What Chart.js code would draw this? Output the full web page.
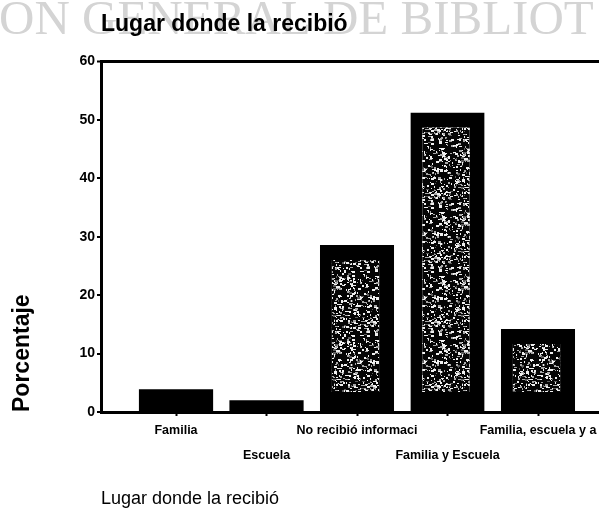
<!DOCTYPE html>
<html>
<head>
<meta charset="utf-8">
<script src="https://cdn.jsdelivr.net/npm/chart.js@4/dist/chart.umd.min.js"></script>
<style>
  html, body { margin: 0; background: #fff; }
  #wrap { width: 599px; height: 508px; }
</style>
</head>
<body>
<div id="wrap"><canvas id="chart" width="599" height="508"></canvas></div>
<script>
// datos: porcentaje por lugar donde recibió la información
const categories = ['Familia', 'Escuela', 'No recibió informaci', 'Familia y Escuela', 'Familia, escuela y a'];
const porcentajes = [3.9, 2.0, 28.6, 51.3, 14.2];
const yTicks = [0, 10, 20, 30, 40, 50, 60];
const posiciones = [1, 2, 3, 4, 5];

const FONT = '"Liberation Sans", Arial, sans-serif';

// relleno moteado (negro con manchas claras) para las barras grandes
function makeSpeckle() {
  const size = 64;
  const c = document.createElement('canvas');
  c.width = size; c.height = size;
  const g = c.getContext('2d');
  g.fillStyle = '#050505';
  g.fillRect(0, 0, size, size);
  let seed = 12345;
  const next = () => {
    seed = (Math.imul(seed, 1664525) + 1013904223) >>> 0;
    return seed / 4294967296;
  };
  for (let i = 0; i < 520; i++) {
    const x = Math.floor(next() * size);
    const y = Math.floor(next() * size);
    const w = 1 + Math.floor(next() * 3);
    const h = 1 + Math.floor(next() * 2);
    const t = next();
    g.fillStyle = t < 0.6 ? '#f0f0f0' : (t < 0.85 ? '#a8a8a8' : '#5a5a5a');
    g.fillRect(x, y, w, h);
  }
  return g.createPattern(c, 'repeat');
}

const speckle = makeSpeckle();
const fills = porcentajes.map((v, i) => i < 2 ? '#000' : speckle);
const borders = porcentajes.map((v, i) => i < 2 ? 0 : { left: 12, right: 15, top: 15, bottom: 20 });

// marca de agua gris detrás del gráfico
const watermark = {
  id: 'watermark',
  beforeDraw(chart) {
    const ctx = chart.ctx;
    ctx.save();
    ctx.font = '49px "Liberation Serif", "DejaVu Serif", serif';
    ctx.fillStyle = '#d4d4d4';
    ctx.textBaseline = 'alphabetic';
    ctx.fillText('ON GENERAL DE BIBLIOT', -1, 34);
    ctx.restore();
  }
};

const ctx = document.getElementById('chart').getContext('2d');
new Chart(ctx, {
  type: 'bar',
  data: {
    datasets: [{
      data: posiciones.map((x, i) => ({ x, y: porcentajes[i] })),
      backgroundColor: fills,
      borderColor: '#000',
      borderWidth: borders,
      borderSkipped: false,
      barPercentage: 0.82,
      categoryPercentage: 1
    }]
  },
  options: {
    responsive: false,
    animation: false,
    layout: { padding: 0 },
    plugins: {
      legend: { display: false },
      tooltip: { enabled: false },
      title: {
        display: true,
        text: 'Lugar donde la recibió',
        align: 'start',
        fullSize: false,
        color: '#000',
        font: { family: FONT, size: 23, weight: 'bold' },
        padding: { top: 11, bottom: 23 }
      }
    },
    scales: {
      x: {
        type: 'linear',
        offset: false,
        min: 0.171,
        max: 5.674,
        afterBuildTicks(scale) {
          scale.ticks = posiciones.map(v => ({ value: v }));
        },
        afterFit(scale) {
          scale.paddingLeft = 0;
          scale.paddingRight = 0;
          scale.height = 96;
        },
        border: { display: true, color: '#000', width: 3 },
        grid: { offset: false, drawOnChartArea: false, tickLength: 4, tickColor: '#000', tickWidth: 2 },
        ticks: {
          autoSkip: false,
          maxRotation: 0,
          minRotation: 0,
          padding: 2,
          color: '#000',
          font: { family: FONT, size: 12.5, weight: 'bold', lineHeight: 2 },
          callback: (v, i) => i % 2 ? ['', categories[i]] : categories[i]
        },
        title: {
          display: true,
          text: 'Lugar donde la recibió',
          align: 'start',
          color: '#000',
          font: { family: FONT, size: 18, lineHeight: 1 },
          padding: { top: 0, bottom: 0 }
        }
      },
      y: {
        min: 0,
        max: 60,
        afterBuildTicks(scale) {
          scale.ticks = yTicks.map(v => ({ value: v }));
        },
        afterFit(scale) {
          scale.width = 101;
        },
        border: { display: true, color: '#000', width: 3 },
        grid: {
          color: c => c.tick && c.tick.value === 60 ? '#000' : 'rgba(0,0,0,0)',
          lineWidth: c => c.tick && c.tick.value === 60 ? 3 : 0,
          tickLength: 4,
          tickColor: '#000',
          tickWidth: 2
        },
        ticks: {
          padding: 2,
          color: '#000',
          font: { family: FONT, size: 14, weight: 'bold' }
        },
        title: {
          display: true,
          text: 'Porcentaje',
          align: 'start',
          color: '#000',
          font: { family: FONT, size: 23, weight: 'bold' },
          padding: { top: 9, bottom: 0 }
        }
      }
    }
  },
  plugins: [watermark]
});
</script>
</body>
</html>
